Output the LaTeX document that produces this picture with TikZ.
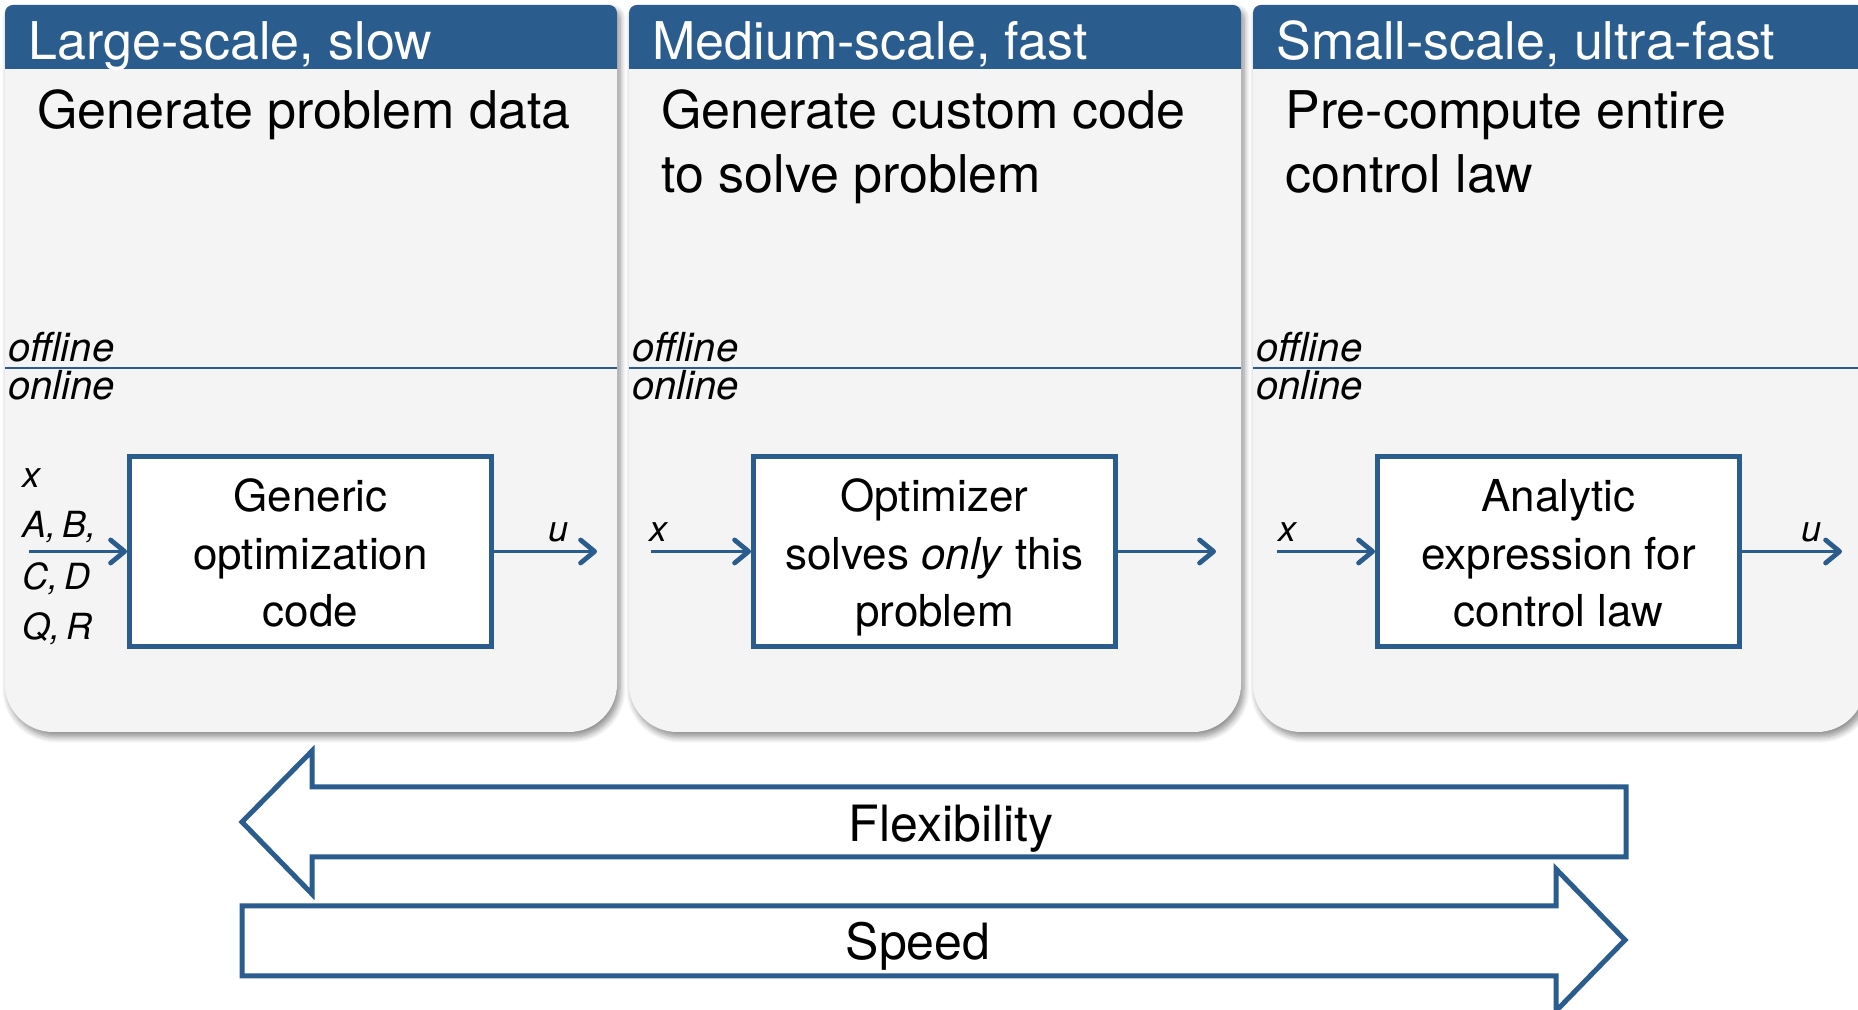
\documentclass[tikz,border=0pt]{standalone}
\usepackage{fontspec}
\setmainfont{TeX Gyre Heros}
\usetikzlibrary{positioning, arrows.meta, shadows.blur}

\definecolor{hdrblue}{RGB}{42,92,142}
\definecolor{panelgray}{RGB}{244,244,244}

\tikzset{
  panel/.style={fill=panelgray, blur shadow={shadow xshift=1.5pt, shadow yshift=-2.5pt,
      shadow blur radius=3pt, shadow blur steps=8, shadow opacity=45}},
  hdrtext/.style={text=white, anchor=base west, inner sep=0pt, font=\fontsize{26}{30}\selectfont},
  subtext/.style={anchor=base west, inner sep=0pt, align=left, font=\fontsize{26}{32}\selectfont},
  modetext/.style={anchor=base west, inner sep=0pt, font=\fontsize{20}{24}\selectfont\itshape},
  symtext/.style={inner sep=0pt, font=\fontsize{18}{22}\selectfont\itshape},
  divider/.style={draw=hdrblue, line width=0.8pt},
  optbox/.style={draw=hdrblue, line width=2.5pt, fill=white, minimum width=181pt, minimum height=95pt,
      inner sep=0pt, align=center, font=\fontsize{22}{28.75}\selectfont,
      text height=75.5pt, text depth=0pt},
  signal/.style={draw=hdrblue, line width=1.6pt, -{Straight Barb[length=7pt, width=11.5pt, line width=2.4pt, round]}},
  bigarrow/.style={draw=hdrblue, line width=2.5pt, fill=white},
  bigtext/.style={anchor=base, inner sep=0pt, font=\fontsize{25}{30}\selectfont}
}

\begin{document}
\begin{tikzpicture}[x=0.5pt, y=0.5pt]
\useasboundingbox (0,0) rectangle (1858,1010);

% three panels
\foreach \L in {5,629,1253} {
  \pgfmathsetmacro{\R}{\L+612}
  \path[panel] (\L,326) -- (\L,997) arc[start angle=180, end angle=90, radius=4pt]
    -- (\R-8,1005) arc[start angle=90, end angle=0, radius=4pt]
    -- (\R,326) arc[start angle=0, end angle=-90, radius=24pt]
    -- (\L+48,278) arc[start angle=270, end angle=180, radius=24pt] -- cycle;
  \fill[hdrblue] (\L,941) -- (\L,997) arc[start angle=180, end angle=90, radius=4pt]
    -- (\R-8,1005) arc[start angle=90, end angle=0, radius=4pt] -- (\R,941) -- cycle;
  \draw[divider] (\L,642) -- (\R,642);
  \node[modetext] (off\L) at (\L+3,648) {offline};
  \node[modetext] (on\L) at (\L+3,610) {online};
}

% headers
\node[hdrtext] (hdrA) at (28,950) {Large-scale, slow};
\node[hdrtext] (hdrB) at (652,950) {Medium-scale, fast};
\node[hdrtext] (hdrC) at (1276,950) {Small-scale, ultra-fast};

% two-line nodes sit on their last baseline
\node[subtext] (subA) at (37,881) {Generate problem data};
\node[subtext] (subB) at (661,817) {Generate custom code\\to solve problem};
\node[subtext] (subC) at (1285,817) {Pre-compute entire\\control law};

% online blocks
\node[optbox] (optA) at (310.5,458.5) {Generic\\optimization\\code};
\node[optbox] (optB) at (934.5,458.5) {Optimizer\\solves \emph{only} this\\problem};
\node[optbox] (optC) at (1558.5,458.5) {Analytic\\expression for\\control law};

\coordinate (inA) at (29,458.5);
\coordinate (outA) at (597,458.5);
\coordinate (inB) at (651,458.5);
\coordinate (outB) at (1216,458.5);
\coordinate (inC) at (1277,458.5);
\coordinate (outC) at (1842,458.5);

\draw[signal] (inA) -- (optA);
\draw[signal] (optA) -- (outA);
\draw[signal] (inB) -- (optB);
\draw[signal] (optB) -- (outB);
\draw[signal] (inC) -- (optC);
\draw[signal] (optC) -- (outC);

\node[symtext, anchor=base west] (xA) at (22,522) {x};
\node[symtext, anchor=base west] (abA) at (22,472) {A,\,B,};
\node[symtext, anchor=base west] (cdA) at (22,420) {C,\,D};
\node[symtext, anchor=base west] (qrA) at (22,370) {Q,\,R};
\node[symtext, anchor=base east] (uA) at (569,468) {u};
\node[symtext, anchor=base west] (xB) at (649,468) {x};
\node[symtext, anchor=base west] (xC) at (1278,468) {x};
\node[symtext, anchor=base east] (uC) at (1822,468) {u};

% flexibility / speed
\draw[bigarrow] (242,188) -- (312,259) -- (312,223) -- (1626,223) -- (1626,153)
  -- (312,153) -- (312,116) -- cycle;
\node[bigtext] (flex) at (951,168) {Flexibility};
\draw[bigarrow] (242,104) -- (1556,104) -- (1556,141) -- (1625,70) -- (1556,-1)
  -- (1556,34) -- (242,34) -- cycle;
\node[bigtext] (speed) at (918,50) {Speed};
\end{tikzpicture}
\end{document}
